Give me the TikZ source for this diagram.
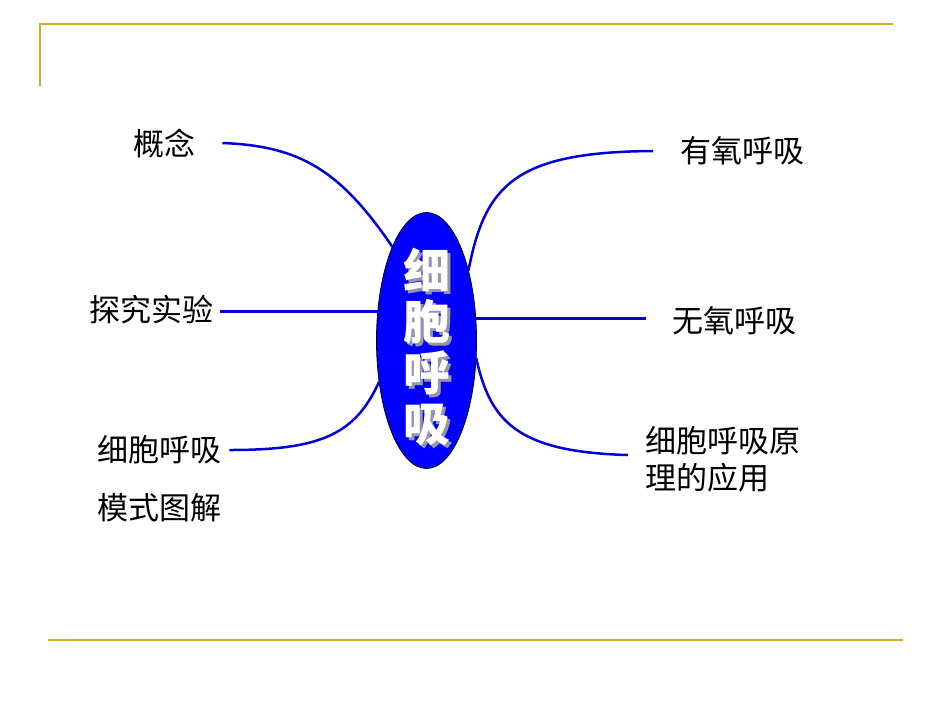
\documentclass[tikz,border=0pt]{standalone}
\usepackage{fontspec}
\usetikzlibrary{shapes.geometric}
\newfontfamily\cjk{Noto Sans CJK SC}
\definecolor{slide_gold}{RGB}{212,172,44}
\definecolor{branch_blue}{RGB}{0,0,215}
\definecolor{shade_gray}{RGB}{150,150,170}
\newcommand{\shadechar}[1]{\makebox[0pt][l]{\hspace{3pt}\raisebox{-3pt}{\textcolor{shade_gray}{#1}}}#1}

\begin{document}
\begin{tikzpicture}[x=1pt, y=-1pt, 
	topic/.style={font=\cjk\fontsize{31}{37}\selectfont, inner sep=0pt, anchor=west, align=left}, 
	core_font/.style={font=\cjk\bfseries\fontsize{47}{51}\selectfont, align=center, inner sep=0pt, text=white}, 
	branch/.style={draw=branch_blue, line width=2.5pt}, 
	rule/.style={draw=slide_gold, line width=2.5pt}]
	\useasboundingbox (0,0) rectangle (950,713); 
	\draw[rule] (40,86) -- (40,24) -- (893,24); 
	\draw[rule, line width=1.8pt] (48,640) -- (903,640); 
	\node[ellipse, draw=black, line width=0.8pt, fill=blue, minimum width=100, minimum height=256, inner sep=0pt, outer sep=0pt] (core) at (426.5,340.5) {}; 
	\node[core_font] (core_text) at (427,349) {\shadechar{细}\\\shadechar{胞}\\\shadechar{呼}\\\shadechar{吸}}; 
	\node[topic] (concept) at (133,143) {概念}; 
	\node[topic] (experiment) at (89,310) {探究实验}; 
	\node[topic] (model_a) at (97,450) {细胞呼吸}; 
	\node[topic] (model_b) at (97,508) {模式图解}; 
	\node[topic] (aerobic) at (680,151) {有氧呼吸}; 
	\node[topic] (anaerobic) at (672,321) {无氧呼吸}; 
	\node[topic] (application) at (645,459) {细胞呼吸原\\理的应用}; 
	\draw[branch] ([xshift=27]concept.east) .. controls (300,146) and (340,170) .. (core.110); 
	\draw[branch] ([xshift=7]experiment.east |- core.149) -- (core.149); 
	\draw[branch] ([xshift=8]model_a.east) .. controls (320,450) and (355,435) .. (core.221); 
	\draw[branch] (core.59) .. controls (485,185) and (515,152) .. ([xshift=-27]aerobic.west); 
	\draw[branch] (core.24) -- ([xshift=-26]anaerobic.west |- core.24); 
	\draw[branch] (core.341) .. controls (490,420) and (515,452) .. ([xshift=-17, yshift=4]application.west); 
\end{tikzpicture}
\end{document}
